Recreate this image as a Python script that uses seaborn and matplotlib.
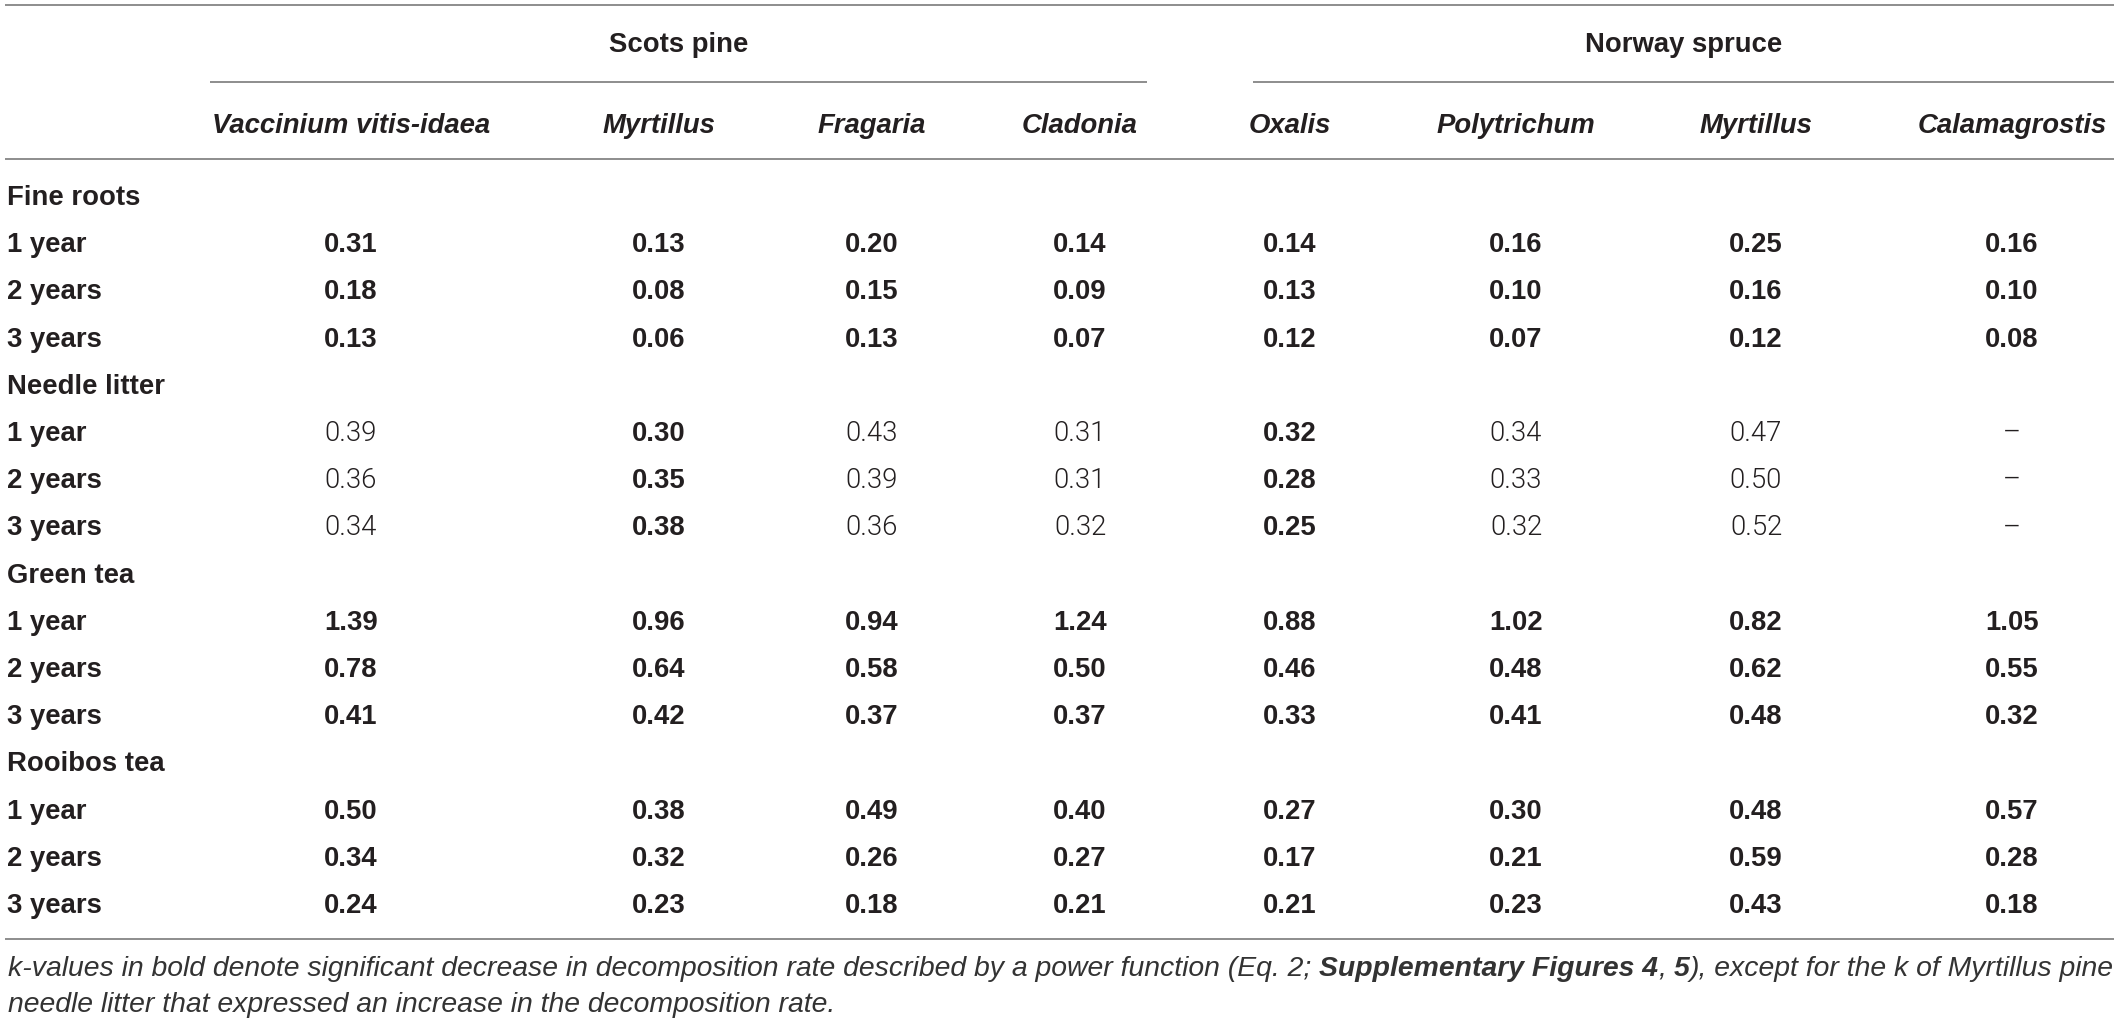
import matplotlib
matplotlib.use("Agg")
import matplotlib.pyplot as plt
import seaborn as sns

# ---------------- data ----------------
groups = ["Scots pine", "Norway spruce"]
species = ["Vaccinium vitis-idaea", "Myrtillus", "Fragaria", "Cladonia",
           "Oxalis", "Polytrichum", "Myrtillus", "Calamagrostis"]
materials = ["Fine roots", "Needle litter", "Green tea", "Rooibos tea"]
periods = ["1 year", "2 years", "3 years"]

fine_roots = [[0.31, 0.13, 0.20, 0.14, 0.14, 0.16, 0.25, 0.16],
              [0.18, 0.08, 0.15, 0.09, 0.13, 0.10, 0.16, 0.10],
              [0.13, 0.06, 0.13, 0.07, 0.12, 0.07, 0.12, 0.08]]
needle_litter = [[0.39, 0.30, 0.43, 0.31, 0.32, 0.34, 0.47, None],
                 [0.36, 0.35, 0.39, 0.31, 0.28, 0.33, 0.50, None],
                 [0.34, 0.38, 0.36, 0.32, 0.25, 0.32, 0.52, None]]
green_tea = [[1.39, 0.96, 0.94, 1.24, 0.88, 1.02, 0.82, 1.05],
             [0.78, 0.64, 0.58, 0.50, 0.46, 0.48, 0.62, 0.55],
             [0.41, 0.42, 0.37, 0.37, 0.33, 0.41, 0.48, 0.32]]
rooibos_tea = [[0.50, 0.38, 0.49, 0.40, 0.27, 0.30, 0.48, 0.57],
               [0.34, 0.32, 0.26, 0.27, 0.17, 0.21, 0.59, 0.28],
               [0.24, 0.23, 0.18, 0.21, 0.21, 0.23, 0.43, 0.18]]
# significance (bold) per column for each material
fine_roots_bold = [True] * 8
needle_litter_bold = [False, True, False, False, True, False, False, False]
green_tea_bold = [True] * 8
rooibos_tea_bold = [True] * 8

footnote_segments = [
    ("k-values in bold denote significant decrease in decomposition rate described by a power function (Eq. 2;", "normal"),
    (" ", "space"),
    ("Supplementary Figures 4", "bold"),
    (",", "normal"),
    (" ", "space"),
    ("5", "bold"),
    ("), except for the k of Myrtillus pine", "normal"),
]
footnote_line2 = "needle litter that expressed an increase in the decomposition rate."

# ---------------- layout ----------------
W, H = 2120, 1026
sns.set_theme(style="white")
plt.rcParams["font.family"] = ["Liberation Sans", "DejaVu Sans"]

fig = plt.figure(figsize=(W / 100, H / 100), dpi=100)
fig.patch.set_facecolor("white")
ax = fig.add_axes([0, 0, 1, 1])
ax.set_xlim(0, W)
ax.set_ylim(H, 0)
ax.axis("off")

TXT = "#231f20"
LINE = "#7a7a7a"
FS = 19.8
col_x = [351, 659, 872, 1080, 1290, 1516, 1756, 2012]
label_x = 7
left, right = 5, 2114

# rules
lw = 1.2
ax.hlines([5, 159, 939], left, right, color=LINE, lw=lw)
span_lines = [(210, 1147), (1253, 2114)]
for (x0, x1), g in zip(span_lines, groups):
    ax.hlines(82, x0, x1, color=LINE, lw=lw)
    ax.text((x0 + x1) / 2, 52, g, ha="center", va="baseline", fontsize=FS,
            fontweight="bold", color=TXT)

for x, s in zip(col_x, species):
    ax.text(x, 133, s, ha="center", va="baseline", fontsize=FS,
            fontweight="bold", fontstyle="italic", color=TXT)

# rows
blocks = [(fine_roots, fine_roots_bold), (needle_litter, needle_litter_bold),
          (green_tea, green_tea_bold), (rooibos_tea, rooibos_tea_bold)]
y0, dy = 205, 47.2
row = 0
for mat, (vals, bold) in zip(materials, blocks):
    ax.text(label_x, y0 + row * dy, mat, ha="left", va="baseline",
            fontsize=FS, fontweight="bold", color=TXT)
    row += 1
    for p, rowvals in zip(periods, vals):
        y = y0 + row * dy
        ax.text(label_x, y, p, ha="left", va="baseline", fontsize=FS,
                fontweight="bold", color=TXT)
        for x, v, b in zip(col_x, rowvals, bold):
            s = "\u2013" if v is None else f"{v:.2f}"
            if b and v is not None:
                ax.text(x, y, s, ha="center", va="baseline", fontsize=FS,
                        fontweight="bold", color=TXT)
            else:
                ax.text(x, y, s, ha="center", va="baseline", fontsize=FS,
                        family=["Roboto", "Liberation Sans"], fontweight=300,
                        color=TXT)
        row += 1

# footnote
renderer = fig.canvas.get_renderer()
FFS = 20.4
def width(s, weight):
    t = ax.text(0, 0, s, fontsize=FFS, fontstyle="italic", fontweight=weight)
    w = t.get_window_extent(renderer).width
    t.remove()
    return w
space_w = width("a a", "normal") - width("aa", "normal")
x = 8
fy1, fy2 = 976, 1012
FCOL = "#333333"
for seg, kind in footnote_segments:
    if kind == "space":
        x += space_w
        continue
    t = ax.text(x, fy1, seg, ha="left", va="baseline", fontsize=FFS,
                fontstyle="italic", fontweight=kind, color=FCOL)
    x += t.get_window_extent(renderer).width
ax.text(8, fy2, footnote_line2, ha="left", va="baseline", fontsize=FFS,
        fontstyle="italic", color=FCOL)

fig.savefig("out.png", dpi=100)
